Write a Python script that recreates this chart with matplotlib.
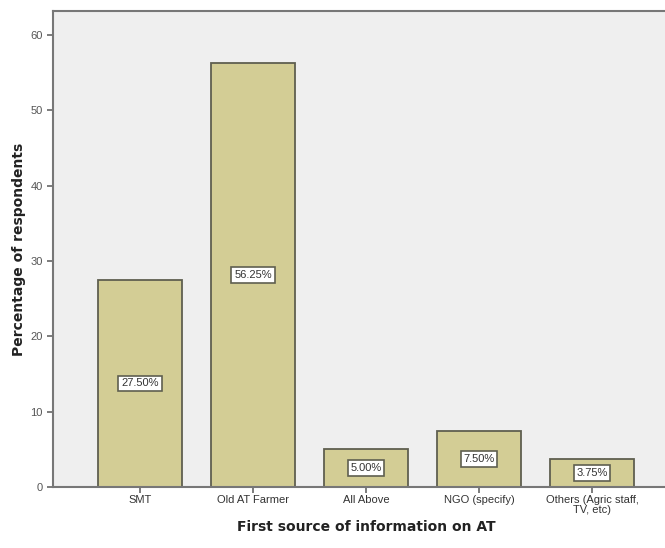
import matplotlib
matplotlib.use("Agg")
from matplotlib import pyplot as plt

categories = ["SMT", "Old AT Farmer", "All Above", "NGO (specify)", "Others (Agric staff,\nTV, etc)"]
percentages = [27.50, 56.25, 5.00, 7.50, 3.75]
y_ticks = [0, 10, 20, 30, 40, 50, 60]

fig = plt.figure(figsize=(6.65, 5.48), dpi=100)
fig.patch.set_facecolor("white")

# plot area runs past the right edge of the figure
ax = fig.add_axes([53 / 665, 61 / 548, (679 - 53) / 665, 476 / 548])
ax.set_facecolor("#efefef")

xs = list(range(len(categories)))
ax.bar(xs, percentages, width=0.75, color="#d3cd95", edgecolor="#5f5f50", linewidth=1.3, zorder=2)

# value labels in white boxes at mid height of each bar
for x, v in zip(xs, percentages):
    ax.text(x, v / 2, f"{v:.2f}%", ha="center", va="center", fontsize=8,
            family="Liberation Sans", color="#333333", zorder=3,
            bbox=dict(boxstyle="square,pad=0.25", facecolor="white",
                      edgecolor="#5f5f50", linewidth=1.2))

ax.set_xlim(-0.77, 4.77)
ax.set_ylim(0, 63.2)
ax.set_yticks(y_ticks)
ax.set_xticks(xs)
ax.set_xticklabels(categories, fontsize=8, family="Liberation Sans", color="#333333", linespacing=0.9)
ax.set_yticklabels([str(t) for t in y_ticks], fontsize=8, family="Liberation Sans", color="#555555")
ax.tick_params(axis="both", direction="out", length=4, width=1.2, color="#666666")
ax.tick_params(axis="x", pad=2)

for side in ["left", "bottom", "top"]:
    ax.spines[side].set_color("#777777")
    ax.spines[side].set_linewidth(1.5)
ax.spines["right"].set_visible(False)

ax.set_ylabel("Percentage of respondents", fontsize=10, fontweight="bold", color="#222222", labelpad=3)
ax.set_xlabel("First source of information on AT", fontsize=10, fontweight="bold", color="#222222", labelpad=4)

fig.savefig("out.png", dpi=100, facecolor="white")
